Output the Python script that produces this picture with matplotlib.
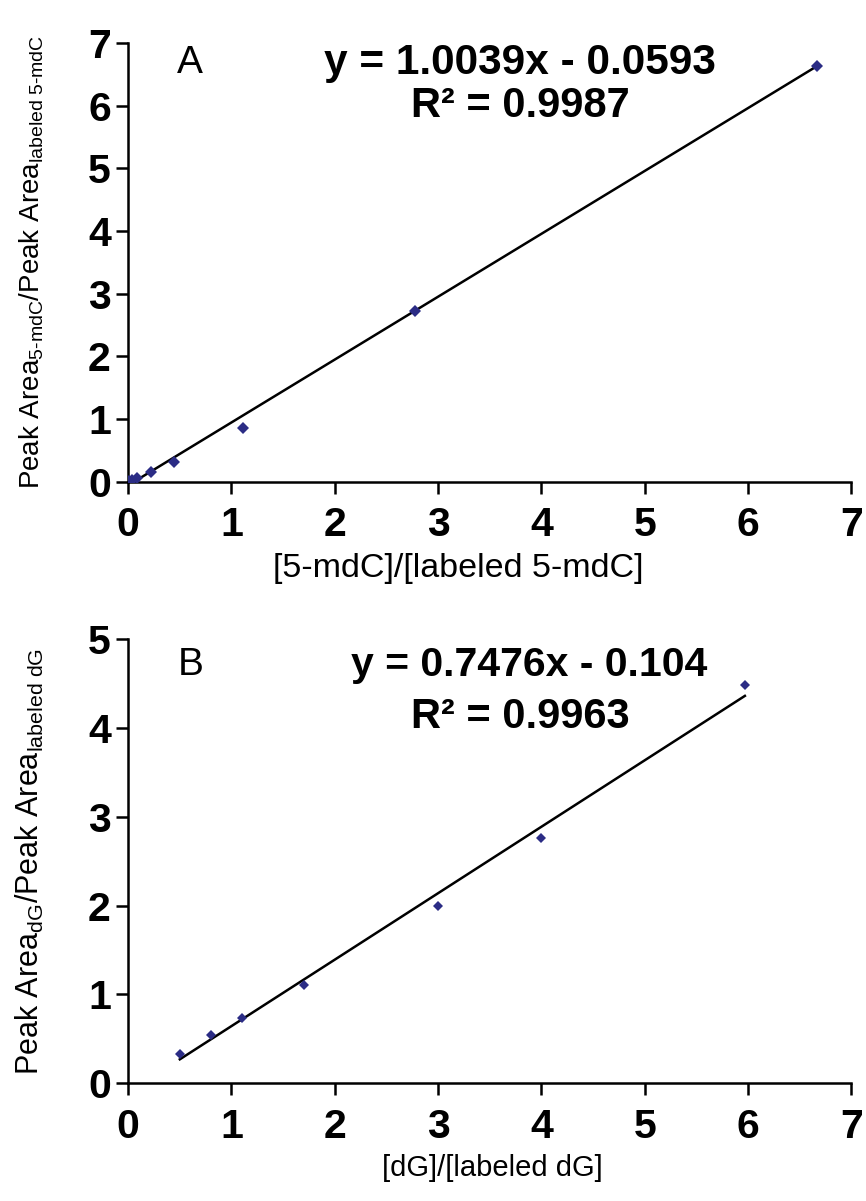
import numpy as np
import matplotlib
matplotlib.use("Agg")
import matplotlib.pyplot as plt

plt.rcParams['font.family'] = ['Liberation Sans', 'DejaVu Sans']
plt.rcParams['mathtext.fontset'] = 'custom'
plt.rcParams['mathtext.rm'] = 'Liberation Sans'
plt.rcParams['mathtext.it'] = 'Liberation Sans'
plt.rcParams['mathtext.bf'] = 'Liberation Sans:bold'

# Panel A: 5-mdC calibration
ratio_a = [0.01, 0.04, 0.09, 0.22, 0.44, 1.11, 2.78, 6.67]
area_a = [0.005, 0.02, 0.06, 0.15, 0.31, 0.86, 2.72, 6.63]
slope_a, icpt_a, r2_a = 1.0039, -0.0593, 0.9987

# Panel B: dG calibration
ratio_b = [0.5, 0.8, 1.1, 1.7, 3.0, 4.0, 5.97]
area_b = [0.33, 0.54, 0.74, 1.11, 2.0, 2.76, 4.48]
slope_b, icpt_b, r2_b = 0.7476, -0.104, 0.9963

x_ticks = list(range(0, 8))
y_ticks_a = list(range(0, 8))
y_ticks_b = list(range(0, 6))

MARKER_COLOR = '#2b2c85'

fig = plt.figure(figsize=(8.66, 12.01), dpi=100)
ax_a = fig.add_axes([0.148, 0.599, 0.835, 0.365])
ax_b = fig.add_axes([0.148, 0.098, 0.835, 0.370])


def draw_panel(ax, xs, ys, slope, icpt, r2, letter, yticks, xlabel, ylabel,
               ms, eq_pos, r2_pos, eq_text, eq_size, xlab_size, xlab_pos, ylab_size):
    xs = np.asarray(xs)
    ax.plot(xs, ys, linestyle='none', marker='D', ms=ms, color=MARKER_COLOR,
            markeredgewidth=0, zorder=3)
    # trend line over the measured range
    fx = np.array([xs.min(), xs.max()])
    ax.plot(fx, slope * fx + icpt, color='black', lw=1.8, zorder=2)

    ax.set_xlim(0, 7)
    ax.set_ylim(0, yticks[-1])
    ax.set_xticks(x_ticks)
    ax.set_yticks(yticks)
    for side in ('top', 'right'):
        ax.spines[side].set_visible(False)
    for side in ('left', 'bottom'):
        ax.spines[side].set_linewidth(1.8)
    ax.tick_params(axis='both', direction='out', length=8.5, width=1.8,
                   labelsize=29.5)
    ax.tick_params(axis='x', pad=9)
    ax.tick_params(axis='y', pad=4)
    for lbl in ax.get_xticklabels() + ax.get_yticklabels():
        lbl.set_fontweight('bold')

    ax.set_xlabel(xlabel, fontsize=xlab_size)
    ax.xaxis.set_label_coords(*xlab_pos)
    ax.set_ylabel(ylabel, fontsize=ylab_size)
    ax.yaxis.set_label_coords(-0.113, 0.5)

    ax.text(0.086, eq_pos[1], letter, transform=ax.transAxes, ha='center',
            va='center', fontsize=28)
    ax.text(*eq_pos, eq_text, transform=ax.transAxes,
            ha='center', va='center', fontsize=eq_size, fontweight='bold')
    ax.text(*r2_pos, f'R² = {r2:.4f}', transform=ax.transAxes,
            ha='center', va='center', fontsize=30, fontweight='bold')


draw_panel(ax_a, ratio_a, area_a, slope_a, icpt_a, r2_a, 'A', y_ticks_a,
           '[5-mdC]/[labeled 5-mdC]',
           r'Peak Area$_{\text{5-mdC}}$/Peak Area$_{\text{labeled 5-mdC}}$',
           6.5, (0.542, 0.955), (0.542, 0.857),
           f'y = {slope_a:.4f}x - {abs(icpt_a):.4f}', 30.5,
           24.5, (0.456, -0.162), 20)
draw_panel(ax_b, ratio_b, area_b, slope_b, icpt_b, r2_b, 'B', y_ticks_b,
           '[dG]/[labeled dG]',
           r'Peak Area$_{\text{dG}}$/Peak Area$_{\text{labeled dG}}$',
           5, (0.555, 0.942), (0.542, 0.825),
           f'y = {slope_b:.4f}x - {abs(icpt_b):.3f}', 29.5,
           21, (0.503, -0.158), 22)

fig.savefig('out.png', dpi=100, facecolor='white')
